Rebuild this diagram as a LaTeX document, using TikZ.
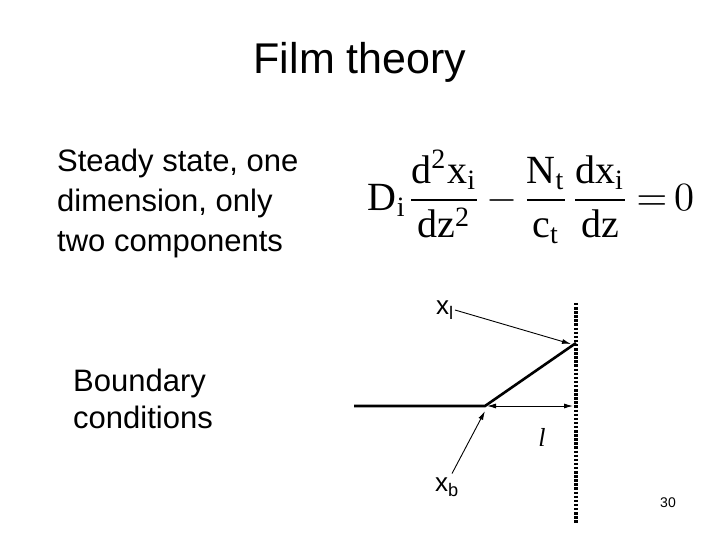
\documentclass[tikz,border=0pt]{standalone}
\usepackage{fontspec}
\setmainfont{Liberation Sans}
\setmathrm{Liberation Serif}
\newfontfamily\serifrm{Liberation Serif}
\usetikzlibrary{arrows.meta,positioning,calc}

\begin{document}
\begin{tikzpicture}[x=1pt, y=1pt,
  textblock/.style={font=\fontsize{31}{40}\selectfont, align=left, anchor=west, inner sep=0pt},
  film/.style={line width=2.6pt},
  pointer/.style={line width=0.9pt, -{Latex[length=9pt, width=5pt]}},
  wall/.style={line width=3.5pt, dash pattern=on 2.5pt off 1.6pt},
  marker/.style={font=\fontsize{26}{26}\selectfont, inner sep=1pt}]
\useasboundingbox (0,0) rectangle (720,540);

% heading and left texts
\node[font=\fontsize{43}{43}\selectfont] (title) at (360,478) {Film theory};
\node[textblock] (assume) at (57,337) {Steady state, one\\dimension, only\\two components};
\node[textblock, font=\fontsize{31}{37}\selectfont] (bc) at (73,141) {Boundary\\conditions};

% balance equation
\node[inner sep=0pt] (eq) at (531,343)
  {\scalebox{4.0}{$\medmuskip=2mu\thickmuskip=3mu\displaystyle \mathrm{D_i}\frac{\mathrm{d^2x_i}}{\mathrm{dz^2}}-\frac{\mathrm{N_t}}{\mathrm{c_t}}\frac{\mathrm{dx_i}}{\mathrm{dz}}=0$}};

% film profile
\coordinate (bulk) at (354,134);
\coordinate (kink) at (485,134);
\coordinate (surf) at (576,197);
\coordinate (walltop) at (576,237);
\coordinate (wallbot) at (576,17);
\coordinate (wallmid) at (576,134);
\draw[wall] (walltop) -- (wallbot);
\draw[film] (bulk) -- (kink) -- (surf);
\draw[line width=0.9pt, {Latex[length=9pt, width=5pt]}-{Latex[length=9pt, width=5pt]}] ([xshift=2pt]kink) -- ([xshift=-3pt]wallmid);

% labels
\node[font=\serifrm\itshape\fontsize{26}{26}\selectfont] (len) at (542,103) {l};
\node[marker] (xl) at (445,230) {x\textsubscript{l}};
\node[marker] (xb) at (447,53) {x\textsubscript{b}};
\draw[pointer] (xl.east) -- ([xshift=-5pt,yshift=-1pt]surf);
\draw[pointer] (xb.north) ++(5pt,3pt) -- ([yshift=-5pt]kink);

\node[font=\fontsize{14}{14}\selectfont] (page) at (668,37) {30};
\end{tikzpicture}
\end{document}
